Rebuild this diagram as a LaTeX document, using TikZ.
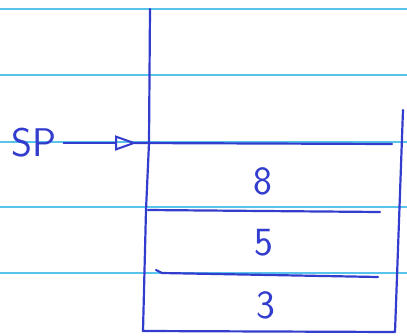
\documentclass[tikz,border=0pt]{standalone}
\usepackage{tikz}
\usetikzlibrary{positioning, arrows.meta}
\definecolor{inkblue}{RGB}{50, 60, 205}
\definecolor{ruleblue}{RGB}{90, 195, 235}

\begin{document}
\begin{tikzpicture}[x=1pt, y=-1pt, >=Stealth,
    ink/.style={inkblue, line width=2.2pt, line cap=round, line join=round},
    rule/.style={ruleblue, line width=1.2pt},
    cell/.style={inkblue, font=\fontsize{40}{40}\sffamily, inner sep=0pt}]
  \useasboundingbox (0,0) rectangle (407,335);
  % ruled paper
  \foreach \y in {9, 75, 142, 207, 273}
    \draw[rule] (0,\y) -- (407,\y);
  % stack frame
  \draw[ink] (150,9) -- (149,143) -- (146,210) -- (143,331) -- (395,332) -- (403,110);
  \draw[ink] (135,143) -- (392,144);
  \draw[ink] (148,210) -- (380,212);
  \draw[ink] (156,270) -- (162,273) -- (378,277);
  % values
  \node[cell] (v8) at (263,181) {8};
  \node[cell] (v5) at (264,243) {5};
  \node[cell] (v3) at (266,305) {3};
  % stack pointer
  \node[cell] (sp) at (34,143) {SP};
  \coordinate (top) at (137,143);
  \draw[ink, -{Triangle[open, length=22pt, width=15pt, line width=2pt]}] ([xshift=7pt]sp.east |- top) -- (top);
\end{tikzpicture}
\end{document}
